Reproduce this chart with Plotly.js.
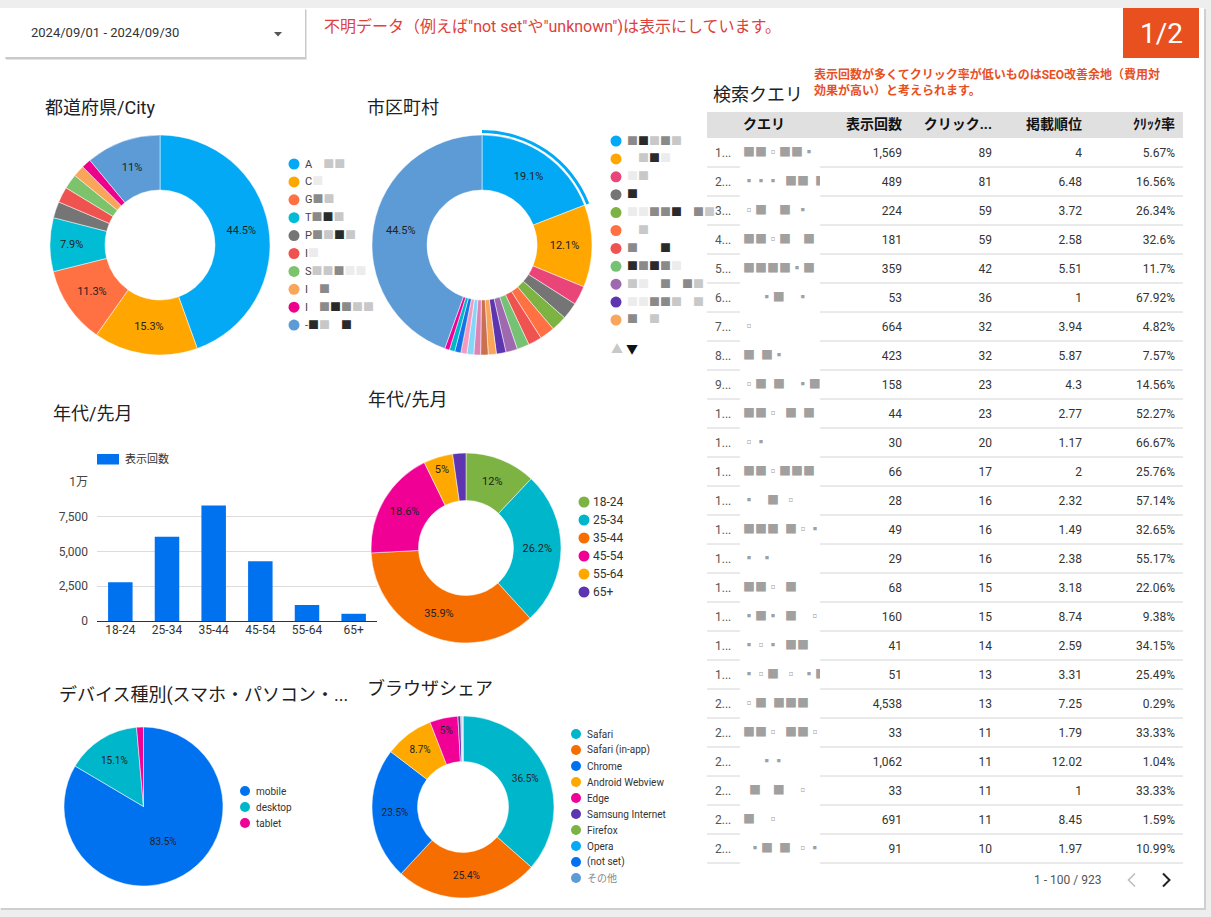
<!DOCTYPE html>
<html><head><meta charset="utf-8">
<script src="https://cdn.plot.ly/plotly-3.0.1.min.js"></script>
<style>html,body{margin:0;padding:0;background:#eeeeee;}#chart{width:1211px;height:917px;}</style>
</head><body><div id="chart"></div>
<script>
// ---------- data ----------
const prefHeads = ['A','C','G','T','P','I','S','I','I','-'];
const prefMasks = [' --','.','=-','=#-','=-#-','.','--=..',' =',' =#=--','#- #'];
const prefValues = [44.5,15.3,11.3,7.9,2.4,2.3,2.2,1.7,1.4,11.0];
const prefColors = ['#03a9f4','#ffa600','#ff7043','#00bcd4','#757575','#ef5350','#7cc36c','#f9a65a','#ec008c','#5c9bd6'];

const cityMasks = ['=#-=-',' -#.','.-','#','..==# =-',' -','=  #','#=#=.','-. = =-','..==- -','= -','=.','-=','.=','=-.','#.','-#','=#','その他'];
const cityValues = [19.1,12.1,2.8,2.5,2.3,2.2,2.0,1.8,1.7,1.4,1.2,1.1,1.0,1.0,0.9,0.9,0.8,0.7,44.5];
const cityColors = ['#03a9f4','#ffa600','#ea4579','#757575','#7cb342','#ff7043','#ef5350','#76c274','#9e69af','#5e35b1','#f9a65a','#c8704f','#dd84b6','#84d6f8','#f49ac1','#1673e6','#00b6cb','#f10096','#5c9bd6'];
const cityLegendCount = 11;

const ageLabels = ['18-24','25-34','35-44','45-54','55-64','65+'];
const ageImpressions = [2780,6060,8310,4300,1150,520];
const ageColors = ['#7cb342','#00b6cb','#f66d00','#f10096','#ffa800','#5e35b1'];
const ageTicks = [0,2500,5000,7500,10000];
const ageTickText = ['0','2,500','5,000','7,500','1万'];

const deviceLabels = ['mobile','desktop','tablet'];
const deviceValues = [83.5,15.1,1.4];
const deviceColors = ['#0072f0','#00b6cb','#f10096'];

const browserLabels = ['Safari','Safari (in-app)','Chrome','Android Webview','Edge','Samsung Internet','Firefox','Opera','(not set)','その他'];
const browserValues = [36.5,25.4,23.5,8.7,5.0,0.5,0.2,0.1,0.06,0.04];
const browserColors = ['#00b6cb','#f66d00','#0072f0','#ffa800','#f10096','#5e35b1','#7cb342','#03a9f4','#0072f0','#5c9bd6'];

const queryMasks = ['=#.#=-','--- #= =','.#  = -','#=.#  #','=#==-=','   -=  -','.','= =-','.= =  -==','#=. = #','.-','#=.==#','-  = .','##= #.-','- -','=#. #','-=- #  ..','-.- #=','-.= . -=','.# =#=','##. ==.','   --',' #  =  .','#  .',' -= # .-'];
const impressions = [1569,489,224,181,359,53,664,423,158,44,30,66,28,49,29,68,160,41,51,4538,33,1062,33,691,91];
const clicks = [89,81,59,59,42,36,32,32,23,23,20,17,16,16,16,15,15,14,13,13,11,11,11,11,10];
const positions = [4,6.48,3.72,2.58,5.51,1,3.94,5.87,4.3,2.77,1.17,2,2.32,1.49,2.38,3.18,8.74,2.59,3.31,7.25,1.79,12.02,1,8.45,1.97];
const ctr = [5.67,16.56,26.34,32.6,11.7,67.92,4.82,7.57,14.56,52.27,66.67,25.76,57.14,32.65,55.17,22.06,9.38,34.15,25.49,0.29,33.33,1.04,33.33,1.59,10.99];
const tableHeaders = ['','クエリ','表示回数','クリック...','掲載順位','ｸﾘｯｸ率'];

// ---------- helpers ----------
const W=1211,H=917;
const FONT="Roboto, 'Noto Sans CJK JP', sans-serif";
const X=p=>p/W, Y=p=>1-p/H;
const ann=[], shp=[];
function text(x,y,t,o){ann.push(Object.assign({xref:'paper',yref:'paper',x:X(x),y:Y(y),text:t,showarrow:false,xanchor:'left',yanchor:'middle',font:{family:FONT,size:12,color:'#333'}},o||{}));}
function rect(x0,y0,x1,y1,fill,o){shp.push(Object.assign({type:'rect',xref:'paper',yref:'paper',x0:X(x0),x1:X(x1),y0:Y(y1),y1:Y(y0),fillcolor:fill,line:{width:0},layer:'below'},o||{}));}
function circ(cx,cy,r,fill){shp.push({type:'circle',xref:'paper',yref:'paper',x0:X(cx-r),x1:X(cx+r),y0:Y(cy+r),y1:Y(cy-r),fillcolor:fill,line:{width:0},layer:'above'});}
function line(x0,y0,x1,y1,c,w){shp.push({type:'line',xref:'paper',yref:'paper',x0:X(x0),x1:X(x1),y0:Y(y0),y1:Y(y1),line:{color:c,width:w||1},layer:'above'});}
function path(pts,o){shp.push(Object.assign({type:'path',xref:'paper',yref:'paper',path:'M'+pts.map(p=>X(p[0])+','+Y(p[1])).join('L'),layer:'above'},o));}
const MC={'#':'#2a2a2a','=':'#8a8a8a','-':'#c8c8c8','.':'#ececec',' ':'rgba(0,0,0,0)'};
function maskHTML(head,mask){
  if(mask==='その他') return mask;
  let s=head?'<span style="color:#444">'+head+'</span>':'';
  for(const ch of mask) s+='<span style="color:'+MC[ch]+'">■</span>';
  return s;
}
const MT={'#':'■','=':'■','-':'▪','.':'▫',' ':'\u00a0\u00a0'};
function maskPlain(mask){let s='';for(const ch of mask) s+=MT[ch];return s;}
function pctText(vals){const s=vals.reduce((a,b)=>a+b,0);return vals.map(v=>{const p=v/s*100;return p>=4.5?(Math.round(p*10)/10)+'%':'';});}
function dom(cx,cy,r){return {x:[X(cx-r),X(cx+r)],y:[Y(cy+r),Y(cy-r)]};}
function pie(labels,values,colors,cx,cy,r,hole,fs){
  return {type:'pie',labels:labels,values:values,marker:{colors:colors,line:{color:'#ffffff',width:0.5}},
    domain:dom(cx,cy,r),hole:hole,sort:false,direction:'clockwise',rotation:0,
    text:pctText(values),textinfo:'text',textposition:'inside',insidetextorientation:'horizontal',
    textfont:{family:FONT,size:fs,color:'#222'},hoverinfo:'none',showlegend:false};
}
function legend(cx,cy0,dy,labelsHTML,colors,fs,r,gap){
  labelsHTML.forEach((t,i)=>{const cy=cy0+i*dy;circ(cx,cy,r,colors[i]);
    text(cx+gap,cy,t,{font:{family:FONT,size:fs,color:t==='その他'?'#888':'#333'}});});
}

// ---------- background / header ----------
rect(1,9,1206,910,'#cfcfcf');
rect(0,8,1204,908,'#ffffff');
rect(6,10,307,60,'rgba(0,0,0,0.10)');
rect(5,9,306,59,'rgba(0,0,0,0.12)');
rect(4,8,305,57,'#ffffff');
text(29,33,'2024/09/01 - 2024/09/30',{font:{family:FONT,size:13,color:'#333'}});
path([[274,32],[282,32],[278,36.5],[274,32]],{fillcolor:'#555',line:{width:0}});
text(322,27,'不明データ（例えば"not set"や"unknown")は表示にしています。',{font:{family:FONT,size:16,color:'#e0403a'}});
rect(1123,8,1199,58,'#e8501f');
text(1161,34,'1/2',{xanchor:'center',font:{family:FONT,size:28,color:'#ffffff'}});

// titles
const TF={family:FONT,size:18,color:'#212121'};
text(43,107,'都道府県/City',{font:TF});
text(365,107,'市区町村',{font:TF});
text(51,414,'年代/先月',{font:TF});
text(366,400,'年代/先月',{font:TF});
text(57,695,'デバイス種別(スマホ・パソコン・...',{font:TF});
text(365,688,'ブラウザシェア',{font:TF});
text(711,94,'検索クエリ',{font:TF});
text(812,83,'<b>表示回数が多くてクリック率が低いものはSEO改善余地（費用対<br>効果が高い）と考えられます。</b>',{font:{family:FONT,size:12,color:'#e8501f'},align:'left'});

// ---------- traces ----------
const prefNames = prefHeads.map((h,i)=>maskHTML(h,prefMasks[i]));
const cityNames = cityMasks.map(m=>maskHTML('',m));
const traces=[];
traces.push(pie(prefNames,prefValues,prefColors,160,245,110,0.5,11));
traces.push(pie(cityNames,cityValues,cityColors,482,245,110,0.5,11));
// selection arc around first city slice
traces.push({type:'pie',labels:cityNames,values:cityValues,marker:{colors:cityColors.map((c,i)=>i===0?c:'rgba(0,0,0,0)'),line:{width:0}},
  domain:dom(482,245,115),hole:0.974,sort:false,direction:'clockwise',rotation:0,textinfo:'none',hoverinfo:'none',showlegend:false});
traces.push(pie(ageLabels,ageImpressions,ageColors,466,548,95,0.5,11));
traces.push(pie(deviceLabels,deviceValues,deviceColors,143.5,806.5,79.5,0,10));
traces.push(pie(browserLabels,browserValues,browserColors,463,807,91,0.5,10));
traces.push({type:'bar',x:ageLabels,y:ageImpressions,marker:{color:'#0072f0'},hoverinfo:'none',showlegend:false,xaxis:'x',yaxis:'y'});

// table (fills drawn as shapes; trace positioned so text sits centred in rows)
rect(707,112,1183,138,'#e0e0e0');
const rowNums = impressions.map((v,i)=>String(i+1).charAt(0)+'...');
traces.push({type:'table',domain:{x:[X(707),X(1183)],y:[Y(858),Y(108)]},columnwidth:[28,85,90,90,90,93],
  header:{values:tableHeaders.map(h=>h?'<b>'+h+'</b>':''),align:['left','left','right','right','right','right'],
    fill:{color:'rgba(0,0,0,0)'},line:{width:0,color:'rgba(0,0,0,0)'},font:{family:FONT,size:14,color:'#111'},height:22},
  cells:{values:[rowNums,queryMasks.map(maskPlain),impressions.map(v=>v.toLocaleString('en-US')),clicks.map(String),positions.map(String),ctr.map(v=>v+'%')],
    align:['left','left','right','right','right','right'],fill:{color:'rgba(0,0,0,0)'},line:{width:0,color:'rgba(0,0,0,0)'},
    font:{family:FONT,size:[12,12,12,12,12,12],color:['#555','#a0a0a0','#333','#333','#333','#333']},height:29}});
for(let k=1;k<=impressions.length;k++){const y=138+29*k;line(707,y,740,y,'#d4d4d4',1);line(820,y,1183,y,'#d4d4d4',1);}
text(1103,880,'1 - 100 / 923',{xanchor:'right',font:{family:FONT,size:12,color:'#555'}});
path([[1135,873.5],[1128.5,880],[1135,886.5]],{line:{color:'#bdbdbd',width:1.6}});
path([[1163,873.5],[1169.5,880],[1163,886.5]],{line:{color:'#222',width:2}});

// legends
legend(294,164,17.9,prefNames,prefColors,11,5.5,9);
legend(616,141,17.9,cityNames.slice(0,cityLegendCount),cityColors,11,5.5,9);
text(617,350,'▲',{xanchor:'center',font:{family:FONT,size:12,color:'#c8c8c8'}});
text(632,350,'▼',{xanchor:'center',font:{family:FONT,size:12,color:'#111'}});
legend(584,502,18,ageLabels,ageColors,12,5.5,7);
legend(245,791,16,deviceLabels,deviceColors,10,5,9);
legend(576,734,16,browserLabels,browserColors,10,5,9);
// bar legend
rect(97,454,119,464.5,'#0072f0',{layer:'above'});
text(123,459,'表示回数',{font:{family:FONT,size:11,color:'#333'}});

const layout={width:W,height:H,margin:{l:0,r:0,t:0,b:0},paper_bgcolor:'#eeeeee',plot_bgcolor:'rgba(0,0,0,0)',
  showlegend:false,font:{family:FONT},bargap:0.475,
  xaxis:{domain:[X(97),X(377)],anchor:'y',showgrid:false,ticks:'',tickfont:{family:FONT,size:12,color:'#333'},fixedrange:true},
  yaxis:{domain:[Y(621),Y(482)],anchor:'x',range:[0,10000],tickvals:ageTicks,ticktext:ageTickText,gridcolor:'#dcdcdc',
    zeroline:true,zerolinecolor:'#333',zerolinewidth:1,ticks:'',ticklabelstandoff:8,tickfont:{family:FONT,size:12,color:'#444'},fixedrange:true},
  shapes:shp,annotations:ann};
Plotly.newPlot('chart',traces,layout,{displayModeBar:false,staticPlot:true});
</script></body></html>
